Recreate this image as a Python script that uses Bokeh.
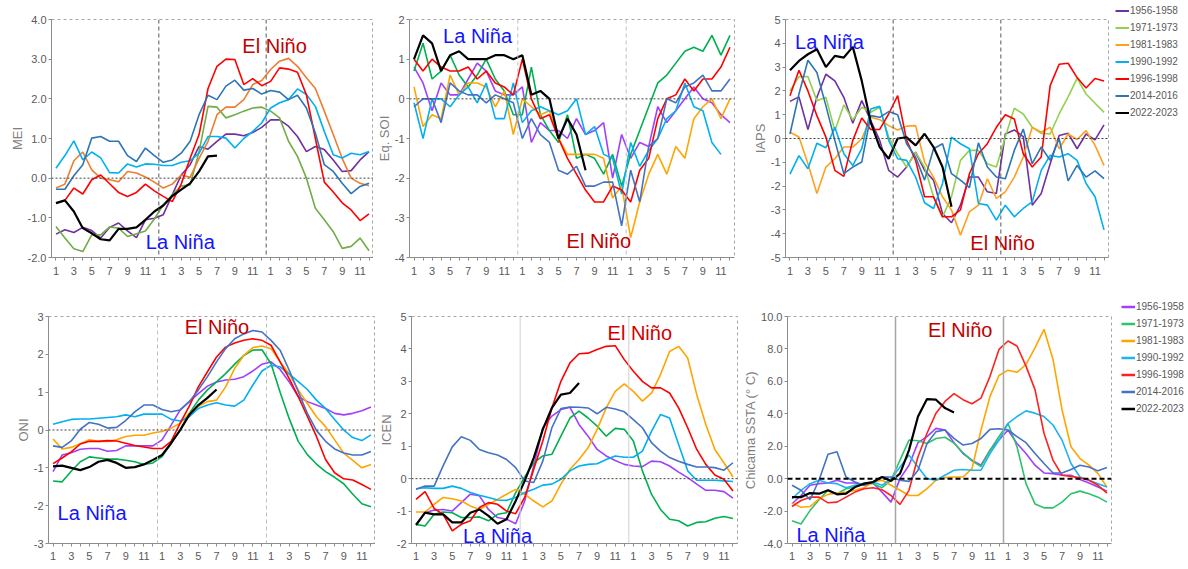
from bokeh.plotting import figure
from bokeh.models import Range1d, FixedTicker, Span, Label, Legend, LegendItem, NumeralTickFormatter, Spacer
from bokeh.layouts import row, column
from bokeh.embed import file_html
from bokeh.resources import INLINE

months = list(range(1, 37))
periods = ["1956-1958", "1971-1973", "1981-1983", "1990-1992", "1996-1998", "2014-2016", "2022-2023"]

mei_1956_58 = [-1.41,-1.30,-1.37,-1.24,-1.32,-1.51,-1.24,-1.13,-1.33,-1.50,-1.05,-1.01,-0.92,-0.42,0.08,0.34,0.80,0.73,0.93,1.11,1.11,1.07,1.15,1.28,1.47,1.47,1.31,1.05,0.67,0.80,0.72,0.46,0.17,0.19,0.46,0.67]
mei_1971_73 = [-1.22,-1.51,-1.78,-1.85,-1.43,-1.43,-1.23,-1.26,-1.47,-1.40,-1.33,-1.03,-0.67,-0.42,-0.20,-0.17,0.67,1.81,1.79,1.52,1.60,1.69,1.77,1.79,1.69,1.52,0.93,0.55,0.00,-0.76,-1.05,-1.35,-1.77,-1.72,-1.51,-1.83]
mei_1981_83 = [-0.25,-0.15,0.44,0.66,0.21,0.00,-0.04,-0.09,0.17,0.13,0.03,-0.10,-0.25,-0.15,0.08,0.02,0.50,0.93,1.60,1.79,1.79,1.98,2.36,2.46,2.74,2.95,3.02,2.82,2.53,2.26,1.69,1.10,0.50,0.00,-0.13,-0.19]
mei_1990_92 = [0.25,0.57,0.94,0.46,0.66,0.51,0.14,0.13,0.36,0.28,0.36,0.35,0.32,0.32,0.40,0.44,0.63,1.05,1.05,1.01,0.76,1.00,1.18,1.39,1.77,1.90,1.98,2.25,2.11,1.81,1.18,0.59,0.51,0.63,0.59,0.67]
mei_1996_98 = [-0.63,-0.56,-0.25,-0.40,-0.04,0.08,-0.14,-0.36,-0.46,-0.36,-0.15,-0.32,-0.46,-0.59,-0.15,0.50,1.10,2.26,2.82,3.00,2.99,2.36,2.51,2.33,2.44,2.78,2.75,2.67,2.10,1.00,-0.10,-0.35,-0.62,-0.80,-1.07,-0.90]
mei_2014_16 = [-0.28,-0.28,0.06,0.34,1.01,1.05,0.93,0.93,0.57,0.42,0.76,0.57,0.40,0.46,0.63,0.93,1.60,2.09,1.98,2.32,2.47,2.22,2.26,2.12,2.21,2.17,1.98,2.09,1.77,1.14,0.34,0.17,-0.13,-0.39,-0.21,-0.13]
mei_2022_23 = [-0.63,-0.56,-0.84,-1.26,-1.39,-1.54,-1.57,-1.28,-1.28,-1.24,-1.05,-0.84,-0.69,-0.45,-0.29,-0.13,0.17,0.55,0.57]

soi_1956_58 = [0.8,0.4,-0.3,0.4,0.1,0.1,0.5,0.9,0.7,0.2,0.1,0.1,0.3,-1.1,-0.6,-0.8,-0.8,-1.0,-0.5,-0.9,-0.8,-0.6,-2.0,-0.9,-1.5,-1.1,-1.2,-0.2,-0.6,-0.3,0.0,0.3,0.0,-0.1,-0.4,-0.6]
soi_1971_73 = [0.7,1.4,0.5,0.7,1.1,0.6,0.3,0.6,1.0,0.5,0.2,-0.4,-0.4,0.8,-0.4,-0.8,-1.1,-0.4,-1.5,-1.4,-1.5,-1.9,-1.4,-2.2,-1.4,-0.8,-0.2,0.4,0.6,0.9,1.2,1.3,1.2,1.6,1.1,1.6]
soi_1981_83 = [0.3,-0.7,-0.4,-0.5,0.6,0.1,0.4,0.4,0.3,-0.2,0.2,-0.9,0.0,-0.2,-0.4,-0.3,-1.0,-1.4,-1.4,-1.4,-1.4,-1.5,-2.5,-2.2,-3.5,-2.6,-1.9,-1.4,-1.9,-1.2,-1.5,-0.5,-0.2,0.0,-0.5,0.0]
soi_1990_92 = [-0.1,-1.0,0.0,0.0,-0.2,0.1,0.3,-0.1,0.4,-0.5,-0.5,0.4,-0.6,-0.3,-0.2,-0.3,-0.4,-0.3,0.0,-0.9,-0.7,-1.4,-1.5,-2.4,-1.1,-1.7,-1.3,-1.0,-0.5,-0.3,0.4,-0.2,-0.3,-1.1,-1.4]
soi_1996_98 = [1.0,0.7,1.0,0.8,0.7,0.7,0.8,0.5,0.7,0.4,0.3,0.1,1.0,0.0,-0.5,-0.4,-1.0,-1.5,-1.9,-2.3,-2.6,-2.6,-2.2,-2.3,-2.6,-1.8,-1.5,-0.5,0.0,0.1,0.5,0.2,0.5,0.5,0.8,1.3]
soi_2014_16 = [-0.2,0.0,0.0,-0.6,0.4,0.2,0.1,0.1,-0.1,0.1,0.0,-0.1,-1.0,-0.5,-0.9,-1.1,-1.8,-1.9,-1.7,-2.2,-2.2,-2.1,-2.1,-3.2,-1.8,-2.6,-1.2,-1.0,0.0,-0.1,0.3,0.4,0.6,0.2,0.2,0.5]
soi_2022_23 = [1.0,1.6,1.4,0.7,1.1,1.2,1.0,1.0,1.0,1.1,1.1,1.0,1.1,0.1,0.2,0.0,-1.0,-0.5,-0.9,-1.8]

iaps_1956_58 = [1.56,1.75,0.38,1.73,2.70,2.42,1.73,0.64,1.59,0.75,-0.08,-1.34,-1.62,-1.20,-0.57,-1.34,-1.75,-3.15,-3.54,-2.80,-1.62,-1.62,-2.24,-2.31,0.19,0.36,0.08,-2.80,-2.31,-1.06,0.13,0.22,-0.43,0.19,-0.06,0.57]
iaps_1971_73 = [2.00,2.60,2.60,1.59,1.73,0.33,1.41,0.78,1.31,1.10,1.31,0.06,-0.64,-1.20,-0.57,-1.20,-2.45,-3.29,-2.45,-0.92,-0.50,-0.50,-1.06,-1.20,0.06,1.27,1.03,0.47,0.22,0.19,1.03,1.75,2.53,1.87,1.48,1.10]
iaps_1981_83 = [0.26,0.06,-1.06,-2.31,-1.20,-0.85,-0.36,-0.36,-0.01,0.89,0.79,0.54,0.36,0.52,0.54,-0.99,-1.62,-2.45,-3.01,-4.06,-3.08,-2.80,-1.69,-2.52,-2.24,-1.62,-0.78,0.47,0.26,0.47,-0.43,0.19,-0.04,0.33,-0.29,-1.13]
iaps_1990_92 = [-1.50,-0.72,-1.27,-0.20,-0.39,0.47,-0.64,-1.13,-0.43,1.24,1.35,-0.08,-0.85,-0.92,-1.62,-2.70,-2.94,-1.89,0.06,-0.22,-0.43,-2.73,-2.80,-3.43,-2.80,-3.29,-2.94,-2.66,-1.34,-0.71,-0.78,-0.64,-0.92,-1.89,-2.45,-3.84]
iaps_1996_98 = [1.80,2.87,2.00,0.96,0.06,-1.34,-1.59,-0.08,0.86,0.38,0.38,1.03,1.80,-0.08,-0.92,-2.45,-2.45,-3.29,-3.29,-3.00,-1.48,-0.64,-0.22,0.47,1.00,0.82,-0.64,-1.20,-0.78,2.22,3.12,3.16,2.56,2.12,2.52,2.42]
iaps_2014_16 = [0.19,1.87,3.29,2.77,1.38,-0.08,-1.48,-1.20,-0.99,0.96,0.89,1.13,1.00,-0.22,-0.78,-1.75,-0.43,-0.22,-1.48,-1.75,-2.06,-0.18,-1.20,-1.62,-1.69,-0.50,0.40,-1.06,-0.36,-0.92,-0.01,-1.78,-1.13,-1.62,-1.36,-1.69]
iaps_2022_23 = [2.87,3.26,3.54,3.75,3.00,3.47,3.40,3.85,2.42,0.68,-0.36,-0.85,0.00,0.05,-0.29,0.20,-0.36,-1.20,-2.87]

oni_1956_58 = [-1.10,-0.66,-0.60,-0.51,-0.49,-0.49,-0.56,-0.54,-0.42,-0.42,-0.42,-0.42,-0.26,0.13,0.53,0.75,0.96,1.16,1.27,1.32,1.34,1.41,1.56,1.74,1.80,1.60,1.27,0.88,0.75,0.66,0.57,0.44,0.40,0.44,0.51,0.61]
oni_1971_73 = [-1.35,-1.37,-1.09,-0.84,-0.71,-0.74,-0.77,-0.77,-0.80,-0.84,-0.91,-0.87,-0.70,-0.35,0.00,0.44,0.79,1.06,1.27,1.49,1.74,1.97,2.11,2.12,1.75,1.00,0.30,-0.30,-0.65,-0.90,-1.10,-1.25,-1.42,-1.70,-1.95,-2.03]
oni_1981_83 = [-0.24,-0.50,-0.46,-0.36,-0.26,-0.30,-0.30,-0.26,-0.17,-0.14,-0.14,-0.08,-0.04,0.05,0.18,0.44,0.63,0.75,0.79,1.14,1.63,1.97,2.18,2.22,2.15,1.80,1.49,1.06,0.70,0.35,0.09,-0.26,-0.61,-0.80,-1.00,-0.91]
oni_1990_92 = [0.15,0.22,0.28,0.29,0.29,0.31,0.33,0.35,0.40,0.35,0.42,0.42,0.42,0.28,0.24,0.35,0.57,0.66,0.72,0.66,0.63,0.79,1.19,1.56,1.71,1.67,1.48,1.28,1.07,0.79,0.57,0.28,0.00,-0.20,-0.28,-0.13]
oni_1996_98 = [-0.89,-0.74,-0.58,-0.37,-0.30,-0.30,-0.28,-0.29,-0.35,-0.41,-0.45,-0.49,-0.49,-0.30,0.18,0.63,1.14,1.54,1.93,2.19,2.30,2.37,2.41,2.37,2.24,1.80,1.36,0.88,0.36,-0.17,-0.78,-1.13,-1.29,-1.32,-1.44,-1.57]
oni_2014_16 = [-0.42,-0.46,-0.29,0.02,0.20,0.15,0.05,0.07,0.25,0.48,0.66,0.66,0.54,0.48,0.53,0.75,1.06,1.41,1.80,2.15,2.41,2.54,2.63,2.59,2.37,2.11,1.58,1.01,0.44,-0.01,-0.30,-0.50,-0.61,-0.66,-0.66,-0.57]
oni_2022_23 = [-0.96,-0.94,-1.00,-1.06,-0.98,-0.84,-0.79,-0.87,-1.00,-0.98,-0.91,-0.79,-0.66,-0.35,0.00,0.40,0.66,0.85,1.07]

icen_1956_58 = [-1.41,-1.05,-0.97,-0.95,-1.00,-0.74,-0.48,-0.53,-0.95,-1.20,-1.25,-1.39,-0.69,0.39,1.57,1.93,2.13,2.20,1.67,1.31,0.90,0.70,0.56,0.44,0.39,0.37,0.54,0.52,0.39,0.20,0.03,-0.17,-0.36,-0.36,-0.40,-0.60]
icen_1971_73 = [-1.41,-1.46,-1.10,-1.03,-1.05,-1.20,-1.20,-1.18,-1.30,-1.10,-1.05,-0.43,0.05,0.49,0.70,0.75,1.31,1.87,2.08,1.87,1.62,1.31,1.55,1.52,1.16,0.24,-0.48,-0.95,-1.25,-1.30,-1.46,-1.35,-1.33,-1.22,-1.17,-1.23]
icen_1981_83 = [-1.03,-1.03,-0.79,-0.58,-0.62,-0.69,-0.84,-0.95,-0.79,-0.64,-0.48,-0.33,-0.48,-0.69,-0.87,-0.69,-0.17,0.29,0.59,0.95,1.52,2.18,2.69,2.92,2.69,2.39,2.64,3.21,3.92,4.08,3.72,2.59,1.67,0.90,0.49,0.05]
icen_1990_92 = [-0.31,-0.28,-0.30,-0.30,-0.23,-0.30,-0.43,-0.51,-0.58,-0.66,-0.67,-0.58,-0.43,-0.33,-0.20,-0.17,-0.02,0.24,0.39,0.44,0.46,0.59,0.70,0.66,0.66,0.85,1.46,1.98,1.87,1.05,0.24,-0.05,-0.05,-0.05,-0.07,-0.09]
icen_1996_98 = [-0.64,-0.40,-0.92,-1.10,-1.61,-1.41,-1.30,-0.89,-0.74,-0.79,-1.00,-1.08,-0.58,0.29,1.16,2.18,3.00,3.57,3.85,3.87,3.98,4.08,4.10,3.67,3.31,3.00,2.80,2.80,2.64,2.18,1.57,0.90,0.44,0.11,-0.02,-0.38]
icen_2014_16 = [-0.33,-0.23,-0.23,0.40,0.98,1.29,1.18,0.90,0.80,0.73,0.59,0.34,-0.07,-0.12,0.54,1.57,2.16,2.21,2.20,2.18,2.00,2.20,2.15,2.06,1.82,1.57,1.11,0.85,0.65,0.54,0.44,0.36,0.36,0.34,0.26,0.49]
icen_2022_23 = [-1.43,-1.05,-1.10,-1.10,-1.35,-1.35,-1.05,-0.95,-1.15,-1.39,-1.25,-0.69,-0.07,0.64,1.52,2.18,2.59,2.64,2.95]

chic_1956_58 = [-1.55,-1.04,-0.41,-0.31,-0.27,-0.10,-0.27,-0.27,-0.41,-0.27,-0.83,-1.45,0.00,0.83,2.22,2.59,3.10,3.00,2.22,1.55,1.14,0.83,1.76,2.38,3.00,2.17,1.55,0.83,0.35,0.31,0.21,0.21,-0.06,-0.27,-0.52,-0.77]
chic_1971_73 = [-2.59,-2.80,-1.97,-1.30,-0.72,-0.93,-0.62,-0.52,-0.27,-0.31,-0.56,-0.10,1.14,2.38,2.34,2.17,2.48,2.55,2.20,1.60,1.10,0.75,1.75,2.60,3.40,1.97,-0.31,-1.56,-1.80,-1.80,-1.45,-0.93,-0.77,-0.93,-1.14,-1.45]
chic_1981_83 = [-1.51,-1.76,-1.72,-1.24,-0.97,-0.89,-0.83,-0.72,-0.56,-0.21,-0.10,-0.41,-0.72,-1.04,-1.04,-0.62,-0.10,0.06,0.10,0.10,0.62,3.00,5.07,6.36,6.69,6.56,7.04,8.07,9.21,7.35,4.25,1.97,1.24,0.83,0.31,-0.52]
chic_1990_92 = [-1.24,-0.72,-0.31,-0.10,-0.27,-0.31,-0.56,-0.41,-0.31,-0.21,-0.41,0.00,0.72,1.45,0.72,0.00,-0.10,0.21,0.52,0.56,0.52,0.52,1.55,2.38,3.41,3.83,4.18,4.04,3.83,3.31,2.38,0.93,0.10,-0.10,-0.31,-0.52]
chic_1996_98 = [-1.72,-1.35,-1.14,-1.14,-1.49,-1.45,-1.14,-0.83,-0.62,-0.56,-0.68,-1.04,-1.59,-0.72,1.35,2.80,4.04,4.76,5.24,4.87,4.62,4.97,6.31,7.97,8.49,8.18,6.94,5.49,2.80,1.14,0.21,0.14,0.06,-0.10,-0.41,-0.89]
chic_2014_16 = [-0.41,-0.72,-1.30,-0.10,1.51,1.66,0.10,-0.21,-0.41,-0.21,0.10,0.10,-0.10,-0.17,0.52,2.17,2.90,3.00,2.48,2.07,2.17,2.48,3.04,3.08,3.00,2.59,2.22,1.55,0.93,0.35,0.35,0.56,0.83,0.72,0.48,0.68]
chic_2022_23 = [-1.14,-1.14,-0.89,-0.93,-0.72,-0.97,-0.93,-0.52,-0.31,-0.21,0.10,-0.14,0.31,1.76,3.83,4.91,4.87,4.35,4.08]

mei = [mei_1956_58, mei_1971_73, mei_1981_83, mei_1990_92, mei_1996_98, mei_2014_16, mei_2022_23]
soi = [soi_1956_58, soi_1971_73, soi_1981_83, soi_1990_92, soi_1996_98, soi_2014_16, soi_2022_23]
iaps = [iaps_1956_58, iaps_1971_73, iaps_1981_83, iaps_1990_92, iaps_1996_98, iaps_2014_16, iaps_2022_23]
oni = [oni_1956_58, oni_1971_73, oni_1981_83, oni_1990_92, oni_1996_98, oni_2014_16, oni_2022_23]
icen = [icen_1956_58, icen_1971_73, icen_1981_83, icen_1990_92, icen_1996_98, icen_2014_16, icen_2022_23]
chic = [chic_1956_58, chic_1971_73, chic_1981_83, chic_1990_92, chic_1996_98, chic_2014_16, chic_2022_23]

pal_top = ["#7030A0", "#70AD47", "#ED7D31", "#00B0F0", "#FF0000", "#2E75B6", "#000000"]
pal_iaps = ["#7030A0", "#92D050", "#FFA020", "#00B0F0", "#FF0000", "#2E75B6", "#000000"]
pal_bot = ["#A040FF", "#00B050", "#FFA500", "#00B0F0", "#FF0000", "#4472C4", "#000000"]
pal_chic = ["#A040FF", "#2DC26B", "#FFA500", "#1EB4F0", "#FF2020", "#4472C4", "#000000"]

month_labels = {i: (str((i - 1) % 12 + 1) if ((i - 1) % 12 + 1) % 2 == 1 else "") for i in months}

FONT = "Liberation Sans"


def panel(data, pal, ylabel, yr, yticks, yfmt, w, h, bl, br, bt, bb,
          vline, zero, labels, x_standoff=4):
    p = figure(width=w, height=h, x_range=Range1d(0.5, 36.5), y_range=Range1d(*yr),
               output_backend="svg", toolbar_location=None,
               min_border_left=bl, min_border_right=br, min_border_top=bt, min_border_bottom=bb)
    p.xgrid.visible = False
    p.ygrid.visible = False
    p.outline_line_color = "#A6A6A6"
    p.outline_line_dash = "3 3"
    p.border_fill_color = "white"
    p.background_fill_color = "white"

    p.xaxis.ticker = FixedTicker(ticks=months)
    p.xaxis.major_label_overrides = month_labels
    p.yaxis.ticker = FixedTicker(ticks=yticks)
    p.yaxis.formatter = NumeralTickFormatter(format=yfmt)
    for ax in (p.xaxis[0], p.yaxis[0]):
        ax.axis_line_color = "#8C8C8C"
        ax.major_tick_line_color = "#8C8C8C"
        ax.minor_tick_line_color = None
        ax.major_tick_in = 0
        ax.major_tick_out = 3
        ax.major_label_text_color = "#595959"
        ax.major_label_text_font = FONT
        ax.major_label_text_font_size = "11px"
    p.xaxis.major_label_standoff = x_standoff
    p.yaxis.major_label_standoff = 2
    p.yaxis.axis_label = ylabel
    p.yaxis.axis_label_text_font = FONT
    p.yaxis.axis_label_text_font_style = "normal"
    p.yaxis.axis_label_text_font_size = "13px"
    p.yaxis.axis_label_text_color = "#7F7F7F"
    p.yaxis.axis_label_standoff = 0

    vc, vdash, vw = vline
    for loc in (12.5, 24.5):
        p.add_layout(Span(location=loc, dimension="height", line_color=vc,
                          line_dash=vdash, line_width=vw))
    zc, zdash, zw = zero
    p.add_layout(Span(location=0, dimension="width", line_color=zc, line_dash=zdash, line_width=zw))

    for vals, col in zip(data, pal):
        lw = 2.2 if col == "#000000" else 1.6
        p.line(months[:len(vals)], vals, line_color=col, line_width=lw)

    for (txt, x, y, col) in labels:
        p.add_layout(Label(x=x, y=y, y_offset=5, text=txt, text_color=col, text_font=FONT,
                           text_font_size="20px", text_baseline="alphabetic"))
    return p


def legend_fig(data, pal, w, h, lw, gh, sp):
    # the same series, drawn outside the visible x range: only their legend samples show
    lf = figure(width=w, height=h, x_range=Range1d(100, 101), y_range=Range1d(0, 1),
                output_backend="svg", toolbar_location=None, min_border=0)
    lf.axis.visible = False
    lf.grid.visible = False
    lf.outline_line_color = None
    items = []
    for lab, vals, col in zip(periods, data, pal):
        r = lf.line(months[:len(vals)], vals, line_color=col, line_width=lw)
        items.append(LegendItem(label=lab, renderers=[r]))
    leg = Legend(items=items, location="top_left", padding=0, margin=0, spacing=sp,
                 glyph_width=14, glyph_height=gh, label_height=gh, label_standoff=1,
                 label_text_font=FONT, label_text_font_size="10px",
                 label_text_color="#595959", border_line_color=None,
                 background_fill_alpha=0)
    lf.add_layout(leg, "center")
    return lf


RED = "#C00000"
BLUE = "#1414FF"
DARK_V = ("#595959", "4 3", 1)
LIGHT_V = ("#BFBFBF", "4 3", 1)
DOT0 = ("#404040", "2 2", 1)

H1, H2 = 285, 283

p1 = panel(mei, pal_top, "MEI", (-2, 4), [-2, -1, 0, 1, 2, 3, 4], "0.0",
           373, H1, 51, 0, 19, 28, DARK_V, DOT0,
           [("El Niño", 21.84, 3.21, RED), ("La Niña", 11.05, -1.74, BLUE)], x_standoff=6)
p2 = panel(soi, pal_bot, "Eq. SOI", (-4, 2), [-4, -3, -2, -1, 0, 1, 2], "0",
           364, H1, 36, 3, 19, 28, LIGHT_V, DOT0,
           [("La Niña", 4.22, 1.45, BLUE), ("El Niño", 17.9, -3.70, RED)], x_standoff=6)
p3 = panel(iaps, pal_iaps, "IAPS", (-5, 5), list(range(-5, 6)), "0",
           373, H1, 48, 2, 19, 28, DARK_V, DOT0,
           [("La Niña", 1.56, 3.85, BLUE), ("El Niño", 21.1, -4.61, RED)], x_standoff=6)
p4 = panel(oni, pal_bot, "ONI", (-3, 3), [-3, -2, -1, 0, 1, 2, 3], "0",
           375, H2, 48, 0, 31, 25, LIGHT_V, DOT0,
           [("El Niño", 15.5, 2.59, RED), ("La Niña", 1.5, -2.32, BLUE)], x_standoff=5)
p5 = panel(icen, pal_bot, "ICEN", (-2, 5), list(range(-2, 6)), "0",
           365, H2, 35, 3, 31, 25, ("#D0D0D0", "solid", 1), DOT0,
           [("El Niño", 22.15, 4.35, "#D00000"), ("La Niña", 6.2, -1.92, BLUE)], x_standoff=5)
p6 = panel(chic, pal_chic, "Chicama SSTA (° C)", (-4, 10), [-4, -2, 0, 2, 4, 6, 8, 10], "0.0",
           373, H2, 47, 2, 31, 25, ("#A6A6A6", "solid", 1.5), ("#000000", "5 3", 2),
           [("El Niño", 16.1, 8.84, RED), ("La Niña", 1.5, -3.8, BLUE)], x_standoff=5)

leg3 = legend_fig(iaps, pal_iaps, 66, H1 - 4, 2, 13, 4)
leg6 = legend_fig(chic, pal_chic, 65, H2 - 15, 2.5, 13, 4)

layout = column(
    row(p1, p2, p3, Spacer(width=5, height=H1), column(Spacer(width=66, height=4), leg3)),
    row(p4, p5, p6, Spacer(width=8, height=H2), column(Spacer(width=65, height=15), leg6)),
)
open("out.html", "w").write(file_html(layout, INLINE))
